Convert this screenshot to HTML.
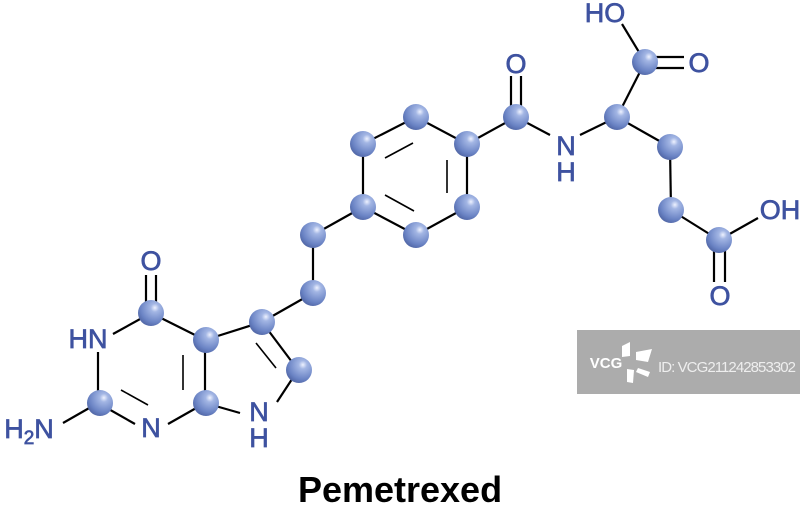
<!DOCTYPE html>
<html><head><meta charset="utf-8"><style>
html,body{margin:0;padding:0;background:#fff;}
svg{display:block}
text{font-family:"Liberation Sans",Arial,sans-serif;fill:#3e52a0;}
</style></head><body>
<svg width="800" height="505" viewBox="0 0 800 505" xmlns="http://www.w3.org/2000/svg">
<defs>
<radialGradient id="b" cx="0.65" cy="0.3" r="0.8">
<stop offset="0" stop-color="#eef2ff"/>
<stop offset="0.2" stop-color="#a3b6e4"/>
<stop offset="0.7" stop-color="#6a83c4"/>
<stop offset="1" stop-color="#4a5f9e"/>
</radialGradient>
</defs>
<g stroke="#000" stroke-width="2.2" fill="none">
<line x1="151" y1="313" x2="113" y2="334"/>
<line x1="98" y1="352" x2="98" y2="403"/>
<line x1="98" y1="403" x2="63" y2="423"/>
<line x1="98" y1="403" x2="135" y2="424"/>
<line x1="121" y1="390" x2="148" y2="405" stroke-width="1.6"/>
<line x1="168" y1="424" x2="205" y2="403"/>
<line x1="151" y1="313" x2="205" y2="340"/>
<line x1="205" y1="340" x2="205" y2="403"/>
<line x1="183" y1="355" x2="183" y2="390" stroke-width="1.6"/>
<line x1="205" y1="403" x2="240" y2="413"/>
<line x1="205" y1="340" x2="262" y2="322"/>
<line x1="262" y1="322" x2="298" y2="370"/>
<line x1="256" y1="343" x2="276" y2="368" stroke-width="1.6"/>
<line x1="298" y1="370" x2="277" y2="402"/>
<line x1="146" y1="313" x2="146" y2="275"/>
<line x1="156" y1="313" x2="156" y2="275"/>
<line x1="262" y1="322" x2="313" y2="293"/>
<line x1="313" y1="293" x2="313" y2="235"/>
<line x1="313" y1="235" x2="363" y2="207"/>
<polygon points="363,144 416,117 467,144 467,207 416,235 363,207"/>
<line x1="385" y1="158" x2="413" y2="143" stroke-width="1.6"/>
<line x1="447" y1="160" x2="447" y2="193" stroke-width="1.6"/>
<line x1="385" y1="195" x2="414" y2="211" stroke-width="1.6"/>
<line x1="467" y1="144" x2="516" y2="117"/>
<line x1="511" y1="117" x2="511" y2="76"/>
<line x1="521" y1="117" x2="521" y2="76"/>
<line x1="516" y1="117" x2="550" y2="135"/>
<line x1="580" y1="135" x2="617" y2="117"/>
<line x1="617" y1="117" x2="645" y2="62"/>
<line x1="645" y1="62" x2="622" y2="24"/>
<line x1="645" y1="57" x2="684" y2="57"/>
<line x1="645" y1="68" x2="684" y2="68"/>
<line x1="617" y1="117" x2="670" y2="147"/>
<line x1="670" y1="147" x2="671" y2="210"/>
<line x1="671" y1="210" x2="719" y2="240"/>
<line x1="719" y1="240" x2="758" y2="218"/>
<line x1="714" y1="240" x2="714" y2="282"/>
<line x1="725" y1="240" x2="725" y2="282"/>
</g>
<g fill="url(#b)">
<circle cx="151" cy="313" r="13"/>
<circle cx="100" cy="403" r="13"/>
<circle cx="206" cy="340" r="13"/>
<circle cx="206" cy="403" r="13"/>
<circle cx="262" cy="322" r="13"/>
<circle cx="299" cy="370" r="13"/>
<circle cx="313" cy="293" r="13"/>
<circle cx="313" cy="235" r="13"/>
<circle cx="363" cy="144" r="13"/>
<circle cx="416" cy="117" r="13"/>
<circle cx="467" cy="144" r="13"/>
<circle cx="467" cy="207" r="13"/>
<circle cx="416" cy="235" r="13"/>
<circle cx="363" cy="207" r="13"/>
<circle cx="516" cy="117" r="13"/>
<circle cx="617" cy="117" r="13"/>
<circle cx="645" cy="62" r="13"/>
<circle cx="670" cy="147" r="13"/>
<circle cx="671" cy="210" r="13"/>
<circle cx="719" cy="240" r="13"/>
</g>
<g font-size="27" text-anchor="middle" style="stroke:#3e52a0;stroke-width:0.7">
<text x="151" y="270">O</text>
<text x="88" y="348">HN</text>
<text x="151" y="437">N</text>
<text x="259" y="421">N</text>
<text x="259" y="447">H</text>
<text x="516" y="73">O</text>
<text x="566" y="155">N</text>
<text x="566" y="181">H</text>
<text x="605" y="22">HO</text>
<text x="699" y="72">O</text>
<text x="780" y="219">OH</text>
<text x="720" y="305">O</text>
<text x="29" y="438">H<tspan font-size="19" dy="6">2</tspan><tspan dy="-6">N</tspan></text>
</g>
<text x="400" y="502" font-size="36" font-weight="bold" text-anchor="middle" style="fill:#000">Pemetrexed</text>
<rect x="577" y="330" width="223" height="64" fill="#acacac"/>
<g fill="#fff">
<text x="606" y="368" font-size="15" font-weight="bold" style="fill:#fff" text-anchor="middle">VCG</text>
<polygon points="622,346 630,342 630,356 622,357"/>
<polygon points="636,352 652,349 648,362 636,360"/>
<polygon points="638,368 650,372 648,377 636,372"/>
<polygon points="627,369 634,370 633,383 627,382"/>
<text x="658" y="372" font-size="15" style="fill:#eee" textLength="138">ID: VCG211242853302</text>
</g>
</svg>
</body></html>
